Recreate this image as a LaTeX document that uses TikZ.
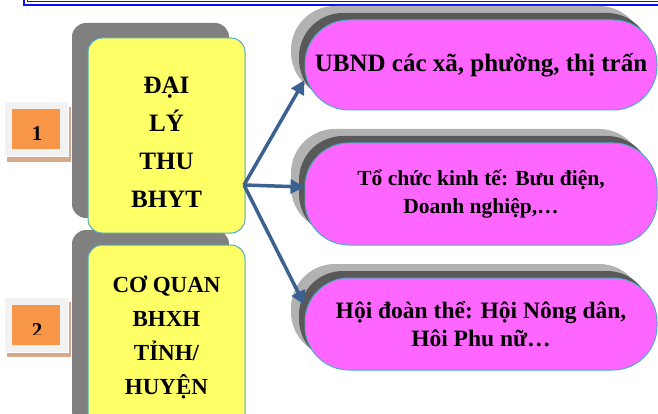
\documentclass[tikz,border=0pt]{standalone}
\usepackage{fontspec}
\setmainfont{Liberation Serif}
\usetikzlibrary{arrows.meta,shadows}

\definecolor{boxyellow}{HTML}{FFFF66}
\definecolor{pillpink}{HTML}{FF66FF}
\definecolor{rimblue}{HTML}{4BACC6}
\definecolor{shadegray}{HTML}{808080}
\definecolor{lightshade}{HTML}{B2B2B2}
\definecolor{darkshade}{HTML}{595959}
\definecolor{linkblue}{HTML}{3A6190}
\definecolor{frameblue}{HTML}{1010F0}
\definecolor{badgeorange}{HTML}{F79646}
\definecolor{badgeframe}{HTML}{F2F2F2}
\definecolor{badgetan}{HTML}{D5A98A}

\tikzset{
  agent/.style={rectangle,rounded corners=14pt,fill=boxyellow,draw=rimblue,line width=1pt,
    minimum width=157pt,minimum height=195pt,inner sep=0pt,
    copy shadow={shadow xshift=-16pt,shadow yshift=15pt,fill=shadegray,draw=none}},
  agenttext/.style={align=center,inner sep=0pt},
  pill/.style={rectangle,rounded corners=44pt,fill=pillpink,draw=rimblue,line width=1pt,
    minimum width=352pt,inner sep=0pt,align=center,
    copy shadow={shadow xshift=-14pt,shadow yshift=14pt,fill=lightshade,draw=none},
    copy shadow={shadow xshift=-6pt,shadow yshift=7pt,fill=darkshade,draw=none}},
  badge/.style={rectangle,fill=badgeframe,draw=white,line width=1pt,minimum width=64pt,minimum height=55pt,
    copy shadow={shadow xshift=3pt,shadow yshift=-5pt,fill=badgetan,draw=none}},
  badgecore/.style={rectangle,fill=badgeorange,minimum width=48pt,minimum height=40pt},
  badgenum/.style={inner sep=0pt,font=\bfseries\fontsize{21}{24}\selectfont},
  link/.style={draw=linkblue,line width=3.5pt,-{Triangle[length=14pt,width=14pt]}}
}

\begin{document}
\begin{tikzpicture}[x=1pt,y=-1pt]
    \useasboundingbox (0,0) rectangle (658,414);
    \clip (0,0) rectangle (658,414);

    \draw[frameblue,line width=2pt] (24,-20) -- (24,5) -- (680,5);
    \draw[frameblue,line width=0.8pt] (27.5,-20) -- (27.5,1.5) -- (680,1.5);

    \node (b1) at (36,129.5) [badge] {};
    \node (c1) at (36,129) [badgecore] {};
    \node (n1) at (37,141) [badgenum,anchor=base] {1};
    \node (b2) at (36,324.5) [badge] {};
    \node (c2) at (36,324.5) [badgecore] {};
    \begin{scope}
        \clip (0,300) rectangle (70,334);
        \node (n2) at (37,337) [badgenum,anchor=base] {2};
    \end{scope}

    \node (a2) at (166.5,342.5) [agent] {};
    \node (a1) at (166.5,135.5) [agent] {};
    \node (t1) at (166.5,142) [agenttext,font=\bfseries\fontsize{25}{38}\selectfont] {ĐẠI\\LÝ\\THU\\BHYT};
    \node (t2) at (166.5,337) [agenttext,font=\bfseries\fontsize{23}{34}\selectfont] {CƠ QUAN\\BHXH\\TỈNH/\\HUYỆN};

    \node (p1) at (481,65) [pill,minimum height=90pt,font=\bfseries\fontsize{25}{28}\selectfont] {UBND các xã, phường, thị trấn};
    \node (p2) at (481,194) [pill,minimum height=102pt,font=\bfseries\fontsize{21.5}{28}\selectfont] {Tổ chức kinh tế: Bưu điện,\\Doanh nghiệp,…};
    \node (p3) at (481,324) [pill,minimum height=92pt,font=\bfseries\fontsize{23.5}{28}\selectfont] {Hội đoàn thể: Hội Nông dân,\\Hôi Phu nữ…};

    \coordinate (src) at (244,185);
    \draw[link] (src) -- ([yshift=-15pt]p1.west);
    \draw[link] (src) -- ([yshift=7pt]p2.west);
    \draw[link] (src) -- ([yshift=19pt]p3.west);
\end{tikzpicture}
\end{document}
